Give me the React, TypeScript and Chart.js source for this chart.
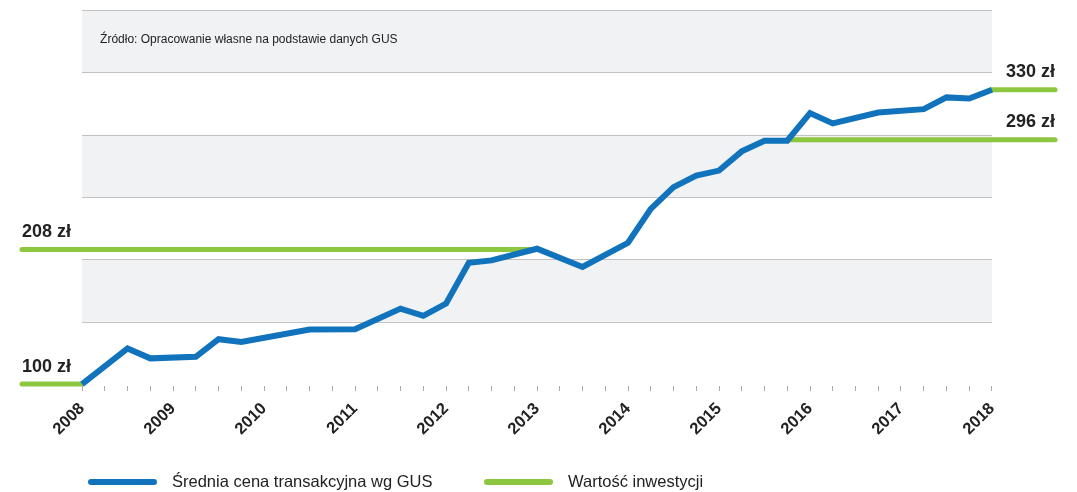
import { useEffect, useRef } from "react";
import { Chart, registerables } from "chart.js";

Chart.register(...registerables);

// ---- data ----
const yearLabels = ["2008", "2009", "2010", "2011", "2012", "2013", "2014", "2015", "2016", "2017", "2018"];
const quarterCount = 40; // quarters from 2008 to 2018

// average transaction price (index, 2008 = 100), vertices at quarter positions
const priceQuarters = [0, 2, 3, 5, 6, 7, 10, 12, 14, 15, 16, 17, 18, 20, 22, 24, 25, 26, 27, 28, 29, 30, 31, 32, 33, 35, 37, 38, 39, 40];
const priceValues = [100, 128.6, 120.6, 121.8, 136, 133.8, 143.7, 144, 160.5, 154.7, 164.5, 197.3, 199.2, 208.5, 193.9, 213.3, 240.5, 257.9, 267.2, 271.2, 286.6, 295.2, 295.2, 317.3, 309, 317.8, 320.5, 329.9, 329, 336];

// investment value segments
const XMIN = -2.64;
const XMAX = 42.77;
const investValues = [100, 208, 296, 336];
const investFrom = [XMIN, XMIN, 31, 40];
const investTo = [0, 20, XMAX, XMAX];
const investLabels = ["100 zł", "208 zł", "296 zł", "330 zł"];
const investLabelSide = ["left", "left", "right", "right"];

const gridLevels = [150, 200, 250, 300, 350, 400];
const grayBands = [[150, 200], [250, 300], [350, 400]];
const YMIN = 98.4;
const YMAX = 400;

const sourceText = "Źródło: Opracowanie własne na podstawie danych GUS";
const seriesNames = ["Średnia cena transakcyjna wg GUS", "Wartość inwestycji"];

const BLUE = "#1173bc";
const GREEN = "#8dc63f";
const FONT = "'Liberation Sans', Arial, Helvetica, sans-serif";

const decorPlugin = {
  id: "decor",
  beforeDatasetsDraw(chart: any) {
    const { ctx, scales } = chart;
    const x = scales.x;
    const y = scales.y;
    const x0 = x.getPixelForValue(0);
    const x1 = x.getPixelForValue(quarterCount);
    ctx.save();
    ctx.fillStyle = "#f1f2f4";
    for (const [a, b] of grayBands) {
      const ya = y.getPixelForValue(b);
      const yb = y.getPixelForValue(a);
      ctx.fillRect(x0, ya, x1 - x0, yb - ya);
    }
    ctx.strokeStyle = "#c2c2c2";
    ctx.lineWidth = 1;
    for (const v of gridLevels) {
      const py = Math.round(y.getPixelForValue(v)) + 0.5;
      ctx.beginPath();
      ctx.moveTo(x0, py);
      ctx.lineTo(x1, py);
      ctx.stroke();
    }
    ctx.fillStyle = "#222";
    ctx.font = `12px ${FONT}`;
    ctx.textBaseline = "middle";
    ctx.textAlign = "left";
    ctx.fillText(sourceText, x0 + 18, y.getPixelForValue(YMAX) + 30);
    ctx.restore();
  },
  afterDatasetsDraw(chart: any) {
    const { ctx, scales } = chart;
    const x = scales.x;
    const y = scales.y;
    ctx.save();
    ctx.fillStyle = "#222";
    ctx.font = `bold 18px ${FONT}`;
    ctx.textBaseline = "alphabetic";
    investValues.forEach((v, i) => {
      const py = y.getPixelForValue(v) - 12.5;
      if (investLabelSide[i] === "left") {
        ctx.textAlign = "left";
        ctx.fillText(investLabels[i], x.getPixelForValue(investFrom[i]), py);
      } else {
        ctx.textAlign = "right";
        ctx.fillText(investLabels[i], x.getPixelForValue(investTo[i]), py);
      }
    });
    // legend
    const ly = 482;
    const items = [
      { color: BLUE, x: 91, text: seriesNames[0] },
      { color: GREEN, x: 487, text: seriesNames[1] },
    ];
    ctx.font = `16.5px ${FONT}`;
    ctx.textBaseline = "middle";
    ctx.textAlign = "left";
    for (const it of items) {
      ctx.strokeStyle = it.color;
      ctx.lineWidth = 6;
      ctx.lineCap = "round";
      ctx.beginPath();
      ctx.moveTo(it.x, ly);
      ctx.lineTo(it.x + 63, ly);
      ctx.stroke();
      ctx.fillStyle = "#222";
      ctx.fillText(it.text, it.x + 81, ly);
    }
    ctx.restore();
  },
};

export default function App() {
  const ref = useRef<HTMLCanvasElement | null>(null);
  useEffect(() => {
    if (!ref.current) return;
    const priceData = priceQuarters.map((q, i) => ({ x: q, y: priceValues[i] }));
    const investSets = investValues.map((v, i) => ({
      label: seriesNames[1],
      data: [
        { x: investFrom[i], y: v },
        { x: investTo[i], y: v },
      ],
      borderColor: GREEN,
      backgroundColor: GREEN,
      borderWidth: 5,
      borderCapStyle: "round" as const,
      pointRadius: 0,
      clip: false as any,
      fill: false,
    }));
    const chart = new Chart(ref.current, {
      type: "line",
      data: {
        datasets: [
          {
            label: seriesNames[0],
            data: priceData,
            borderColor: BLUE,
            backgroundColor: BLUE,
            borderWidth: 6,
            pointRadius: 0,
            tension: 0,
            clip: false as any,
            fill: false,
          },
          ...investSets,
        ],
      },
      options: {
        animation: false,
        responsive: true,
        maintainAspectRatio: false,
        layout: { padding: { left: 22, right: 22, top: 10, bottom: 45 } },
        plugins: { legend: { display: false }, tooltip: { enabled: false } },
        scales: {
          x: {
            type: "linear",
            min: XMIN,
            max: XMAX,
            afterBuildTicks: (scale: any) => {
              const t: any[] = [];
              for (let q = 0; q <= quarterCount; q++) t.push({ value: q });
              scale.ticks = t;
            },
            ticks: {
              autoSkip: false,
              maxRotation: 45,
              minRotation: 45,
              padding: 8,
              color: "#222",
              font: { family: FONT, size: 16.5, weight: "bold" },
              callback: (v: any) => (Number(v) % 4 === 0 ? yearLabels[Number(v) / 4] : ""),
            },
            grid: { drawOnChartArea: false, drawTicks: true, tickLength: 5, color: "#aaaaaa" },
            border: { display: false },
          },
          y: { display: false, min: YMIN, max: YMAX },
        },
      },
      plugins: [decorPlugin],
    });
    return () => chart.destroy();
  }, []);
  return (
    <div style={{ position: "absolute", left: 0, top: 0, width: 1077, height: 492 }}>
      <canvas ref={ref} />
    </div>
  );
}
